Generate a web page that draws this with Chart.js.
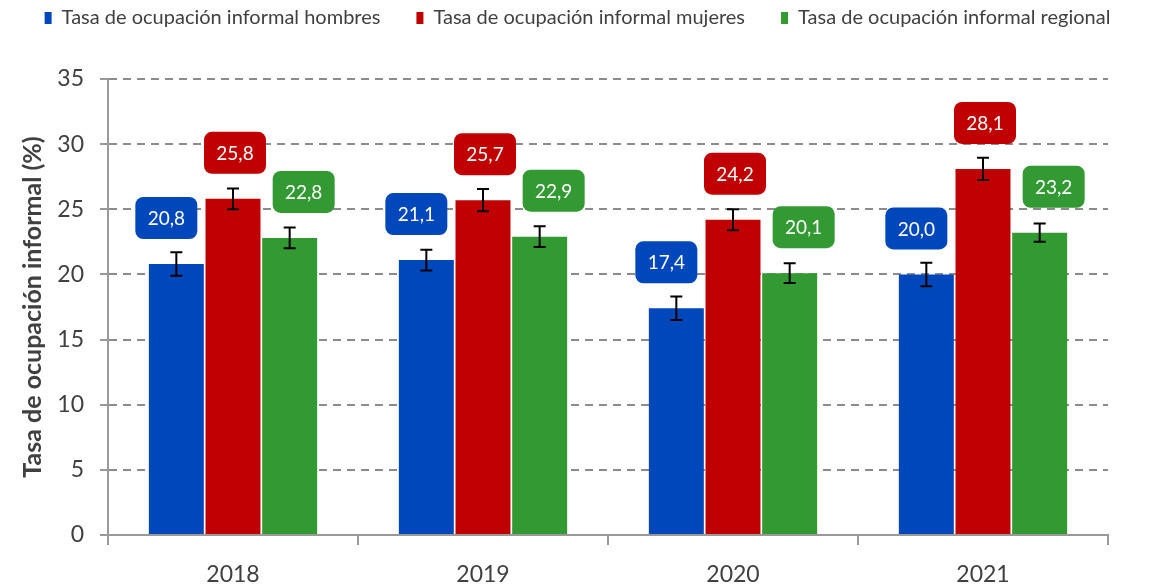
<!DOCTYPE html>
<html>
<head>
<meta charset="utf-8">
<script src="https://cdn.jsdelivr.net/npm/chart.js@4"></script>
<style>
  html, body { margin: 0; padding: 0; background: #fff; }
  #wrap { width: 1155px; height: 585px; }
</style>
</head>
<body>
<div id="wrap"><canvas id="chart" width="1155" height="585"></canvas></div>
<script>
// datos
const years = ['2018', '2019', '2020', '2021'];
const hombres = [20.8, 21.1, 17.4, 20.0];
const mujeres = [25.8, 25.7, 24.2, 28.1];
const regional = [22.8, 22.9, 20.1, 23.2];
// margen de error (±) de cada barra
const errHombres = [0.9, 0.8, 0.9, 0.9];
const errMujeres = [0.8, 0.85, 0.8, 0.85];
const errRegional = [0.8, 0.8, 0.75, 0.7];
const yTicks = [0, 5, 10, 15, 20, 25, 30, 35];

const BLUE = '#0047BB';
const RED = '#C00000';
const GREEN = '#339933';
const TEXT = '#404040';
const FONT = 'Lato, "Open Sans", sans-serif';

// barras de error
const errorBars = {
  id: 'errorBars',
  afterDatasetsDraw(chart) {
    const ctx = chart.ctx;
    const y = chart.scales.y;
    ctx.save();
    ctx.strokeStyle = '#000';
    ctx.lineWidth = 2;
    chart.data.datasets.forEach((ds, i) => {
      chart.getDatasetMeta(i).data.forEach((bar, j) => {
        const v = ds.data[j];
        const e = ds.errors[j];
        const top = y.getPixelForValue(v + e);
        const bot = y.getPixelForValue(v - e);
        ctx.beginPath();
        ctx.moveTo(bar.x, top); ctx.lineTo(bar.x, bot);
        ctx.moveTo(bar.x - 6, top); ctx.lineTo(bar.x + 6, top);
        ctx.moveTo(bar.x - 6, bot); ctx.lineTo(bar.x + 6, bot);
        ctx.stroke();
      });
    });
    ctx.restore();
  }
};

// etiquetas con caja redondeada
const valueBoxes = {
  id: 'valueBoxes',
  afterDatasetsDraw(chart) {
    const ctx = chart.ctx;
    const y = chart.scales.y;
    const shift = [-10, 2, 14];
    ctx.save();
    ctx.font = '19px ' + FONT;
    ctx.textAlign = 'center';
    ctx.textBaseline = 'middle';
    chart.data.datasets.forEach((ds, i) => {
      chart.getDatasetMeta(i).data.forEach((bar, j) => {
        const cx = bar.x + shift[i];
        const cy = y.getPixelForValue(ds.data[j]) - 46;
        const w = 62, h = 42;
        ctx.fillStyle = ds.backgroundColor;
        ctx.beginPath();
        ctx.roundRect(cx - w / 2, cy - h / 2, w, h, 8);
        ctx.fill();
        ctx.fillStyle = '#fff';
        ctx.fillText(ds.data[j].toFixed(1).replace('.', ','), cx, cy + 1);
      });
    });
    ctx.restore();
  }
};

// altura fija de la leyenda
const legendHeight = {
  id: 'legendHeight',
  beforeInit(chart) {
    const fit = chart.legend.fit;
    chart.legend.fit = function () {
      fit.bind(chart.legend)();
      this.height = 107;
    };
  }
};

new Chart(document.getElementById('chart'), {
  type: 'bar',
  data: {
    labels: years,
    datasets: [
      { label: 'Tasa de ocupación informal hombres', data: hombres, errors: errHombres, backgroundColor: BLUE },
      { label: 'Tasa de ocupación informal mujeres', data: mujeres, errors: errMujeres, backgroundColor: RED },
      { label: 'Tasa de ocupación informal regional', data: regional, errors: errRegional, backgroundColor: GREEN }
    ]
  },
  options: {
    responsive: false,
    animation: false,
    categoryPercentage: 0.68,
    barPercentage: 0.97,
    layout: { padding: { left: 0, right: 0, top: -28, bottom: 0 } },
    plugins: {
      tooltip: { enabled: false },
      legend: {
        position: 'top',
        labels: {
          boxWidth: 7,
          boxHeight: 12,
          padding: 36,
          color: TEXT,
          font: { family: FONT, size: 20 }
        }
      }
    },
    scales: {
      x: {
        grid: { drawOnChartArea: false, drawTicks: true, tickLength: 10, color: '#999', lineWidth: 2 },
        border: { color: '#999', width: 2 },
        ticks: { color: TEXT, font: { family: FONT, size: 23 }, padding: 16 },
        afterFit(scale) { scale.height = 50; }
      },
      y: {
        min: 0,
        max: 35,
        afterBuildTicks(scale) { scale.ticks = yTicks.map(v => ({ value: v })); },
        grid: { color: '#8c8c8c', lineWidth: 2, tickLength: 8, tickColor: '#999', tickBorderDash: [] },
        border: { color: '#999', width: 2, dash: [8, 6] },
        ticks: { color: TEXT, font: { family: FONT, size: 23 }, padding: 16 },
        title: {
          display: true,
          text: 'Tasa de ocupación informal (%)',
          color: TEXT,
          font: { family: FONT, size: 25, weight: 'bold' },
          padding: { top: 18, bottom: 0 }
        },
        afterFit(scale) { scale.width = 108; }
      },
      // margen derecho vacío
      yRight: {
        position: 'right',
        display: true,
        grid: { display: false },
        border: { display: false },
        ticks: { display: false },
        afterFit(scale) { scale.width = 47; }
      }
    }
  },
  plugins: [legendHeight, errorBars, valueBoxes]
});
</script>
</body>
</html>
